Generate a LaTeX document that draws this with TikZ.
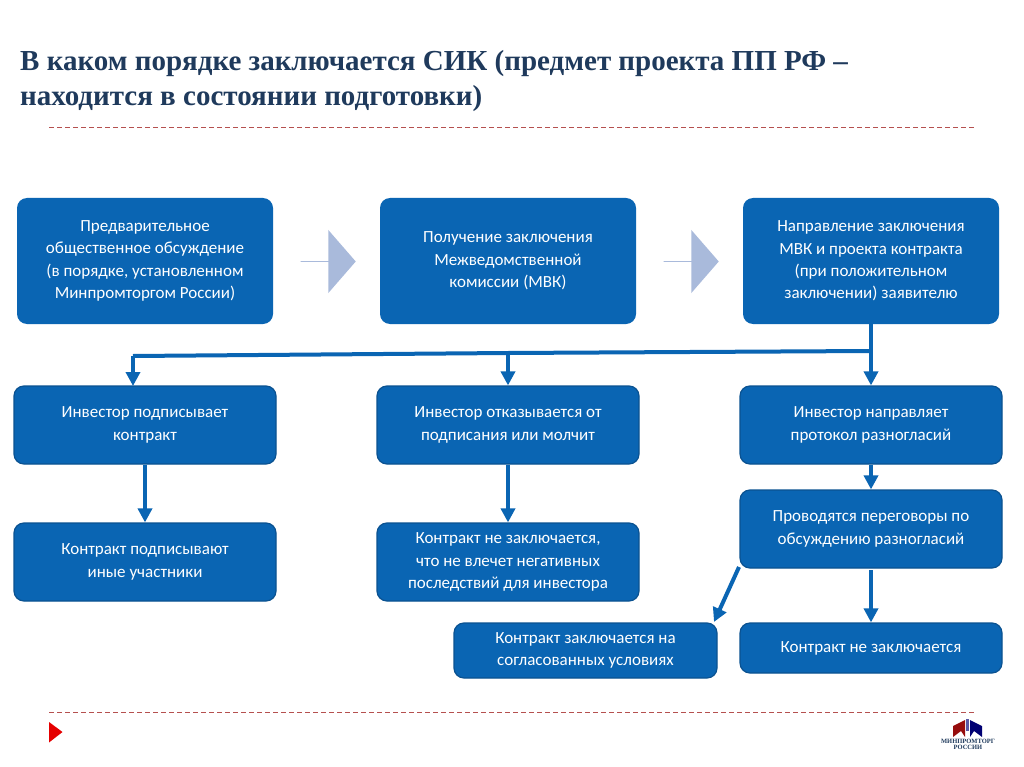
\documentclass[tikz,border=0pt]{standalone}
\usepackage{fontspec}
\setmainfont{Carlito}
\newfontfamily\titlefont{Liberation Serif}
\usetikzlibrary{arrows.meta,shapes.arrows}
\definecolor{boxblue}{HTML}{0A65B3}
\definecolor{boxedge}{HTML}{0A5291}
\definecolor{blockarrow}{HTML}{A9BADB}
\definecolor{titlecol}{HTML}{1F3A5C}
\definecolor{rulered}{HTML}{B5504F}
\tikzset{
  x=1pt,y=-1pt,
  basebox/.style={rectangle,rounded corners=10pt,fill=boxblue,text=white,align=center,
     font=\fontsize{17}{22.3}\selectfont,inner sep=0pt,anchor=center},
  topbox/.style={basebox,minimum width=256pt,minimum height=126pt},
  flowbox/.style={basebox,draw=boxedge,line width=1.2pt,minimum width=262pt,minimum height=78pt},
  conn/.style={draw=boxblue,line width=4pt,-{Triangle[length=14pt,width=14pt]}},
  plain/.style={draw=boxblue,line width=4pt},
  fatarrow/.style={single arrow,fill=blockarrow,minimum width=63pt,minimum height=55pt,
     single arrow head extend=12.5pt,single arrow head indent=0pt,single arrow tip angle=98,inner sep=0pt,anchor=center},
  rulerline/.style={draw=rulered,line width=0.9pt,dash pattern=on 5pt off 3pt},
}
\begin{document}
\begin{tikzpicture}
\useasboundingbox (0,0) rectangle (1024,767);
\fill[white] (0,0) rectangle (1024,767);
\node[anchor=west,text=titlecol,align=left,inner sep=0pt,font=\titlefont\bfseries\fontsize{29}{35}\selectfont] (title) at (20,81)
 {В каком порядке заключается СИК (предмет проекта ПП РФ –\\находится в состоянии подготовки)};
\coordinate (r1a) at (49,127); \coordinate (r1b) at (975,127);
\coordinate (r2a) at (49,712); \coordinate (r2b) at (975,712);
\draw[rulerline] (r1a) -- (r1b);
\draw[rulerline] (r2a) -- (r2b);
% top row
\node[topbox] (a1) at (145,261) {Предварительное\\общественное обсуждение\\(в порядке, установленном\\Минпромторгом России)};
\node[topbox] (a2) at (508,261) {Получение заключения\\Межведомственной\\комиссии (МВК)};
\node[topbox] (a3) at (871,261) {Направление заключения\\МВК и проекта контракта\\(при положительном\\заключении) заявителю};
\node[fatarrow] (f1) at (328,261.5) {};
\node[fatarrow] (f2) at (691,261.5) {};
% second row
\node[flowbox] (b1) at (145,425) {Инвестор подписывает\\контракт};
\node[flowbox] (b2) at (508,425) {Инвестор отказывается от\\подписания или молчит};
\node[flowbox] (b3) at (871,425) {Инвестор направляет\\протокол разногласий};
% third row
\node[flowbox] (c1) at (145,562) {Контракт подписывают\\иные участники};
\node[flowbox] (c2) at (508,562) {Контракт не заключается,\\что не влечет негативных\\последствий для инвестора};
\node[flowbox] (c3) at (871,529) {Проводятся переговоры по\\обсуждению разногласий};
% bottom row
\node[flowbox,minimum width=263pt,minimum height=55pt] (d1) at (585.5,650.5) {Контракт заключается на\\согласованных условиях};
\node[flowbox,minimum height=50pt] (d2) at (871,648) {Контракт не заключается};
% connectors
\coordinate (j3) at (871,351);
\coordinate (j2) at (508,353);
\coordinate (j1) at (133,356);
\coordinate (b1t) at (133,386);
\draw[plain,line join=miter] (j3) -- (j2) -- (j1);
\draw[conn] (a3.south) -- (b3.north);
\draw[conn] (j2) -- (j2|-b2.north);
\draw[conn] (j1) -- (b1t);
\draw[conn] (b1.south) -- (c1.north);
\draw[conn] (b2.south) -- (c2.north);
\draw[conn] (b3.south) -- (c3.north);
\coordinate (c3s) at (871,570);
\coordinate (c3d) at (739,567);
\coordinate (d1d) at (714,622);
\draw[conn] (c3s) -- (d2.north);
\draw[conn] (c3d) -- (d1d);
% marker
\fill[red!90!black] (49,722) -- (62.5,732) -- (49,742.5) -- cycle;
% logo
\fill[red!60!black!90!gray] (953,726) -- (965,720) -- (965,737) -- (961,731) -- (953,737) -- cycle;
\fill[blue!45!black] (982,726) -- (970,720) -- (970,737) -- (974,731) -- (982,737) -- cycle;
\fill[blue!30!gray] (966,719) rectangle (969,731);
\node[inner sep=0pt,text=titlecol,align=center,font=\titlefont\bfseries\fontsize{6.5}{5.5}\selectfont] (logo) at (968,744.5) {МИНПРОМТОРГ\\РОССИИ};
\end{tikzpicture}
\end{document}
